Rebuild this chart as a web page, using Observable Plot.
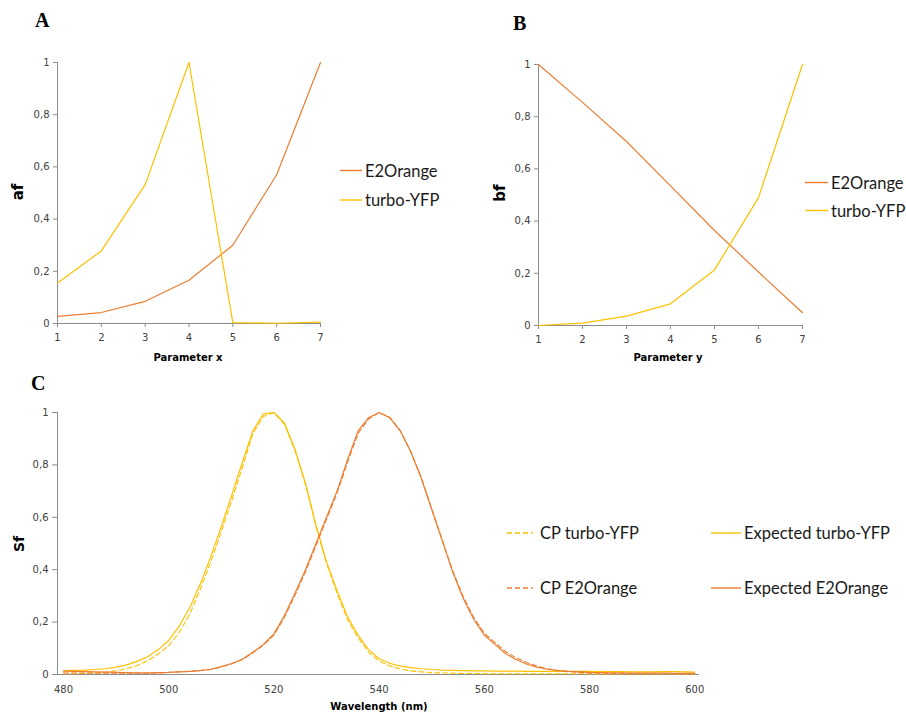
<!DOCTYPE html>
<html>
<head>
<meta charset="utf-8">
<script src="https://cdn.jsdelivr.net/npm/d3@7"></script>
<script src="https://cdn.jsdelivr.net/npm/@observablehq/plot@0.6"></script>
<style>
  html, body { margin: 0; padding: 0; background: #fff; }
  #wrap { position: relative; width: 906px; height: 716px; overflow: hidden; background: #fff; }
  .panel { position: absolute; }
  #overlay { position: absolute; left: 0; top: 0; pointer-events: none; }
</style>
</head>
<body>
<div id="wrap">
  <div class="panel" id="pa" style="left:0;top:0"></div>
  <div class="panel" id="pb" style="left:460px;top:0"></div>
  <div class="panel" id="pc" style="left:0;top:360px"></div>
</div>
<script>
// ---------- Data ----------
const paramX = [1, 2, 3, 4, 5, 6, 7];
const afE2Orange = [0.027, 0.042, 0.085, 0.166, 0.300, 0.570, 1.000];
const afTurboYFP = [0.155, 0.278, 0.532, 1.000, 0.003, 0.001, 0.005];

const paramY = [1, 2, 3, 4, 5, 6, 7];
const bfE2Orange = [1.000, 0.855, 0.705, 0.535, 0.364, 0.205, 0.049];
const bfTurboYFP = [0.000, 0.009, 0.036, 0.083, 0.213, 0.490, 1.000];

const wavelength = [480, 482, 484, 486, 488, 490, 492, 494, 496, 498,
  500, 502, 504, 506, 508, 510, 512, 514, 516, 518,
  520, 522, 524, 526, 528, 530, 532, 534, 536, 538,
  540, 542, 544, 546, 548, 550, 552, 554, 556, 558,
  560, 562, 564, 566, 568, 570, 572, 574, 576, 578,
  580, 582, 584, 586, 588, 590, 592, 594, 596, 598, 600];

const expectedTurboYFP = [0.015, 0.016, 0.017, 0.019, 0.022, 0.028, 0.037, 0.050, 0.068, 0.095,
  0.130, 0.185, 0.255, 0.345, 0.450, 0.565, 0.685, 0.810, 0.930, 0.995,
  1.000, 0.960, 0.860, 0.730, 0.570, 0.430, 0.320, 0.220, 0.150, 0.095,
  0.060, 0.043, 0.032, 0.026, 0.022, 0.019, 0.017, 0.016, 0.015, 0.014,
  0.014, 0.013, 0.013, 0.013, 0.012, 0.012, 0.012, 0.012, 0.012, 0.012,
  0.012, 0.011, 0.011, 0.011, 0.010, 0.010, 0.010, 0.011, 0.011, 0.010, 0.009];

const cpTurboYFP = [0.003, 0.003, 0.004, 0.006, 0.009, 0.014, 0.022, 0.034, 0.052, 0.078,
  0.110, 0.160, 0.230, 0.325, 0.430, 0.545, 0.665, 0.790, 0.920, 0.985,
  1.000, 0.955, 0.855, 0.725, 0.565, 0.425, 0.310, 0.210, 0.140, 0.085,
  0.052, 0.033, 0.021, 0.014, 0.010, 0.007, 0.006, 0.005, 0.004, 0.004,
  0.003, 0.003, 0.003, 0.003, 0.003, 0.003, 0.003, 0.003, 0.003, 0.003,
  0.003, 0.002, 0.002, 0.002, 0.002, 0.002, 0.002, 0.002, 0.002, 0.002, 0.002];

const expectedE2Orange = [0.013, 0.012, 0.011, 0.010, 0.009, 0.008, 0.007, 0.006, 0.006, 0.007,
  0.008, 0.010, 0.012, 0.015, 0.020, 0.030, 0.042, 0.058, 0.085, 0.115,
  0.155, 0.225, 0.310, 0.400, 0.500, 0.600, 0.700, 0.820, 0.930, 0.980,
  1.000, 0.980, 0.930, 0.850, 0.750, 0.630, 0.510, 0.390, 0.290, 0.210,
  0.150, 0.115, 0.080, 0.057, 0.040, 0.028, 0.020, 0.015, 0.012, 0.010,
  0.008, 0.007, 0.006, 0.006, 0.005, 0.005, 0.005, 0.005, 0.004, 0.004, 0.004];

const cpE2Orange = [0.006, 0.006, 0.006, 0.005, 0.005, 0.005, 0.005, 0.005, 0.005, 0.006,
  0.008, 0.010, 0.012, 0.015, 0.019, 0.029, 0.041, 0.057, 0.083, 0.112,
  0.150, 0.218, 0.302, 0.392, 0.492, 0.592, 0.692, 0.810, 0.920, 0.975,
  1.000, 0.982, 0.932, 0.852, 0.752, 0.633, 0.514, 0.395, 0.296, 0.217,
  0.158, 0.122, 0.088, 0.064, 0.046, 0.032, 0.022, 0.015, 0.011, 0.008,
  0.006, 0.005, 0.004, 0.004, 0.003, 0.003, 0.003, 0.003, 0.003, 0.003, 0.003];

const yTicks = [0, 0.2, 0.4, 0.6, 0.8, 1];
const paramTicks = [1, 2, 3, 4, 5, 6, 7];
const wlTicks = [480, 500, 520, 540, 560, 580, 600];

// ---------- Style ----------
const ORANGE = "#ED7D31";
const YELLOW = "#FFC000";
const AXIS = "#8c8c8c";
const fmt = d => String(d).replace(".", ",");
const tickStyle = {fontFamily: "DejaVu Sans, Verdana, sans-serif", fontSize: "10px", color: "#404040", background: "transparent", overflow: "visible"};

function table(xs, ys) { return xs.map((x, i) => ({x, y: ys[i]})); }

// ---------- Panel A ----------
const plotA = Plot.plot({
  width: 460, height: 360,
  marginLeft: 57, marginRight: 140, marginTop: 62, marginBottom: 37,
  style: tickStyle,
  x: {domain: [1, 7]},
  y: {domain: [0, 1]},
  marks: [
    Plot.ruleX([1], {stroke: AXIS}),
    Plot.ruleY([0], {stroke: AXIS}),
    Plot.axisY(yTicks, {tickSize: 4, tickPadding: 4, tickFormat: fmt, stroke: AXIS, label: null}),
    Plot.axisX(paramTicks, {tickSize: 4, tickPadding: 6, stroke: AXIS, label: null}),
    Plot.line(table(paramX, afE2Orange), {x: "x", y: "y", stroke: ORANGE, strokeWidth: 1.2}),
    Plot.line(table(paramX, afTurboYFP), {x: "x", y: "y", stroke: YELLOW, strokeWidth: 1.2})
  ]
});
document.getElementById("pa").appendChild(plotA);

// ---------- Panel B ----------
const plotB = Plot.plot({
  width: 446, height: 360,
  marginLeft: 78, marginRight: 104, marginTop: 64, marginBottom: 35,
  style: tickStyle,
  x: {domain: [1, 7]},
  y: {domain: [0, 1]},
  marks: [
    Plot.ruleX([1], {stroke: AXIS}),
    Plot.ruleY([0], {stroke: AXIS}),
    Plot.axisY(yTicks, {tickSize: 4, tickPadding: 4, tickFormat: fmt, stroke: AXIS, label: null}),
    Plot.axisX(paramTicks, {tickSize: 4, tickPadding: 6, stroke: AXIS, label: null}),
    Plot.line(table(paramY, bfE2Orange), {x: "x", y: "y", stroke: ORANGE, strokeWidth: 1.2}),
    Plot.line(table(paramY, bfTurboYFP), {x: "x", y: "y", stroke: YELLOW, strokeWidth: 1.2})
  ]
});
document.getElementById("pb").appendChild(plotB);

// ---------- Panel C ----------
const plotC = Plot.plot({
  width: 906, height: 356,
  marginLeft: 57, marginRight: 207, marginTop: 52, marginBottom: 42,
  style: tickStyle,
  x: {domain: [478.86, 600.9]},
  y: {domain: [0, 1]},
  marks: [
    Plot.ruleX([478.86], {stroke: AXIS}),
    Plot.ruleY([0], {stroke: AXIS}),
    Plot.axisY(yTicks, {tickSize: 5, tickPadding: 4, tickFormat: fmt, stroke: AXIS, label: null}),
    Plot.axisX(wlTicks, {tickSize: 0, tickPadding: 11, label: null}),
    Plot.line(table(wavelength, cpTurboYFP), {x: "x", y: "y", stroke: YELLOW, strokeWidth: 1.1, strokeDasharray: "5,3"}),
    Plot.line(table(wavelength, expectedTurboYFP), {x: "x", y: "y", stroke: YELLOW, strokeWidth: 1.2}),
    Plot.line(table(wavelength, cpE2Orange), {x: "x", y: "y", stroke: ORANGE, strokeWidth: 1.1, strokeDasharray: "5,3"}),
    Plot.line(table(wavelength, expectedE2Orange), {x: "x", y: "y", stroke: ORANGE, strokeWidth: 1.2})
  ]
});
document.getElementById("pc").appendChild(plotC);

// ---------- Overlay: panel letters, axis titles, legends ----------
const NS = "http://www.w3.org/2000/svg";
const ov = document.createElementNS(NS, "svg");
ov.setAttribute("id", "overlay");
ov.setAttribute("width", 906);
ov.setAttribute("height", 716);
document.getElementById("wrap").appendChild(ov);

function txt(s, x, y, opts = {}) {
  const t = document.createElementNS(NS, "text");
  t.textContent = s;
  t.setAttribute("x", 0);
  t.setAttribute("y", 0);
  t.setAttribute("transform", `translate(${x},${y})` + (opts.rotate ? ` rotate(${opts.rotate})` : ""));
  t.setAttribute("font-family", opts.family || "DejaVu Sans, sans-serif");
  t.setAttribute("font-size", opts.size || 10);
  t.setAttribute("font-weight", opts.weight || "normal");
  t.setAttribute("fill", opts.fill || "#000");
  t.setAttribute("text-anchor", opts.anchor || "start");
  ov.appendChild(t);
}
function seg(x1, x2, y, color, dash) {
  const l = document.createElementNS(NS, "line");
  l.setAttribute("x1", x1); l.setAttribute("x2", x2);
  l.setAttribute("y1", y); l.setAttribute("y2", y);
  l.setAttribute("stroke", color);
  l.setAttribute("stroke-width", 1.4);
  if (dash) l.setAttribute("stroke-dasharray", dash);
  ov.appendChild(l);
}

const serif = "Liberation Serif, Times New Roman, serif";
const legendFont = "Lato, Open Sans, sans-serif";
txt("A", 35, 27, {family: serif, size: 20, weight: "bold"});
txt("B", 513, 30, {family: serif, size: 20, weight: "bold"});
txt("C", 31, 390, {family: serif, size: 20, weight: "bold"});

txt("af", 23, 192, {size: 15, weight: "bold", rotate: -90, anchor: "middle"});
txt("bf", 505, 193, {size: 15, weight: "bold", rotate: -90, anchor: "middle"});
txt("Sf", 24, 544, {size: 14, weight: "bold", rotate: -90, anchor: "middle"});

txt("Parameter x", 188, 361, {size: 10, weight: "bold", anchor: "middle"});
txt("Parameter y", 668, 361, {size: 10, weight: "bold", anchor: "middle"});
txt("Wavelength (nm)", 379, 710, {size: 10, weight: "bold", anchor: "middle"});

// Legend A
const legA = ["E2Orange", "turbo-YFP"];
seg(340, 362, 170.5, ORANGE); txt(legA[0], 365, 176.5, {family: legendFont, size: 16.5, fill: "#1a1a1a"});
seg(340, 362, 200, YELLOW); txt(legA[1], 365, 206, {family: legendFont, size: 16.5, fill: "#1a1a1a"});
// Legend B
seg(805, 828, 182.5, ORANGE); txt(legA[0], 831, 188.5, {family: legendFont, size: 16.5, fill: "#1a1a1a"});
seg(805, 828, 210.5, YELLOW); txt(legA[1], 831, 216.5, {family: legendFont, size: 16.5, fill: "#1a1a1a"});
// Legend C
const legC = ["CP turbo-YFP", "Expected turbo-YFP", "CP E2Orange", "Expected E2Orange"];
seg(507, 533, 533, YELLOW, "5,3"); txt(legC[0], 540, 539, {family: legendFont, size: 16.5, fill: "#1a1a1a"});
seg(711, 741, 533, YELLOW); txt(legC[1], 744, 539, {family: legendFont, size: 16.5, fill: "#1a1a1a"});
seg(507, 533, 588, ORANGE, "5,3"); txt(legC[2], 540, 594, {family: legendFont, size: 16.5, fill: "#1a1a1a"});
seg(711, 741, 588, ORANGE); txt(legC[3], 744, 594, {family: legendFont, size: 16.5, fill: "#1a1a1a"});
</script>
</body>
</html>
